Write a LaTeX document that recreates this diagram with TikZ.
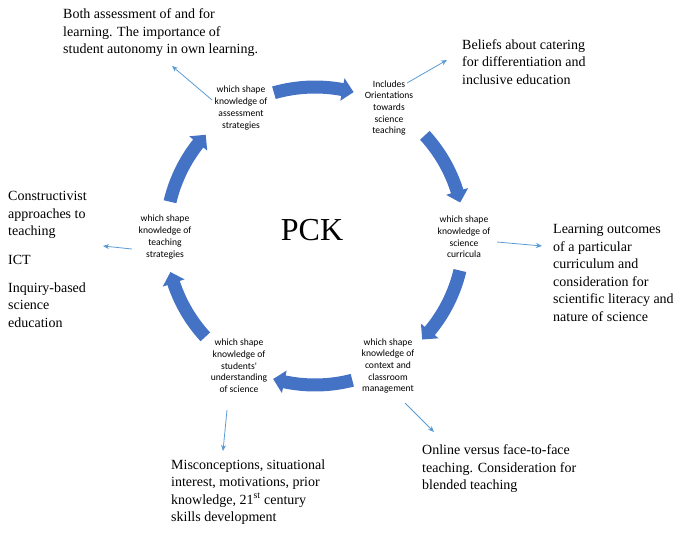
\documentclass[tikz,border=0pt]{standalone}
\usepackage{fontspec}
\setmainfont{Liberation Serif}
\newfontfamily\calfont{Carlito}
\usetikzlibrary{arrows.meta}
\definecolor{bigblue}{HTML}{4472C4}
\definecolor{thinblue}{HTML}{5B9BD5}
\newcommand\bigarrow[2]{%
  \fill[bigblue] (#1:155.5pt) arc[start angle=#1, end angle={#2+4.4}, radius=155.5pt]
   -- ({#2+4.4}:160.5pt) -- (#2:149pt) -- ({#2+4.4}:137.5pt) -- ({#2+4.4}:142.5pt)
   arc[start angle={#2+4.4}, end angle=#1, radius=142.5pt] -- cycle;}
\begin{document}
\begin{tikzpicture}[x=1pt,y=1pt,
  small/.style={font=\calfont\fontsize{9.6}{11.7}\selectfont, align=center, inner sep=0pt},
  note/.style={font=\fontsize{14}{17.5}\selectfont, align=left, anchor=west, inner sep=0pt},
  thin/.style={draw=thinblue, line width=0.8pt, -{Stealth[length=6pt,width=5pt]}}]
\useasboundingbox (0,0) rectangle (685,539);
% big curved arrows
\begin{scope}[shift={(315,303)}]
\bigarrow{106}{75}
\bigarrow{42.5}{13}
\bigarrow{-13.4}{-44}
\bigarrow{-75.5}{-106.3}
\bigarrow{-137.4}{-166}
\bigarrow{166.7}{137.2}
\end{scope}
% centre
\node (pck) at (312,309) {\fontsize{32}{38}\selectfont PCK};
% small nodes
\node[small] (A) at (241,431) {which shape\\knowledge of\\assessment\\strategies};
\node[small] (O) at (389,431) {Includes\\Orientations\\towards\\science\\teaching};
\node[small] (Cu) at (464,302) {which shape\\knowledge of\\science\\curricula};
\node[small] (Cx) at (388,173) {which shape\\knowledge of\\context and\\classroom\\management};
\node[small] (St) at (239,173) {which shape\\knowledge of\\students'\\understanding\\of science};
\node[small] (T) at (165,302) {which shape\\knowledge of\\teaching\\strategies};
% notes
\node[note] (tl) at (63,506) {Both assessment of and for\\learning. The importance of\\student autonomy in own learning.};
\node[note] (tr) at (462,477) {Beliefs about catering\\for differentiation and\\inclusive education};
\node[note] (r) at (553,266) {Learning outcomes\\of a particular\\curriculum and\\consideration for\\scientific literacy and\\nature of science};
\node[note] (con) at (8,324) {Constructivist\\approaches to\\teaching};
\node[note] (ict) at (8,279) {ICT};
\node[note] (inq) at (8,234) {Inquiry-based\\science\\education};
\node[note] (bot) at (171,47) {Misconceptions, situational\\interest, motivations, prior\\knowledge, 21\textsuperscript{st} century\\skills development};
\node[note] (br) at (422,70) {Online versus face-to-face\\teaching. Consideration for\\blended teaching};
% connector endpoints
\coordinate (a0) at (212,439); \coordinate (a1) at (172,473);
\coordinate (o0) at (407,456); \coordinate (o1) at (447,479);
\coordinate (c0) at (497,297); \coordinate (c1) at (542,293);
\coordinate (x0) at (405,136); \coordinate (x1) at (434,107);
\coordinate (s0) at (227,129); \coordinate (s1) at (223,88);
\coordinate (t0) at (132,290); \coordinate (t1) at (103,293);
\draw[thin] (a0) -- (a1);
\draw[thin] (o0) -- (o1);
\draw[thin] (c0) -- (c1);
\draw[thin] (x0) -- (x1);
\draw[thin] (s0) -- (s1);
\draw[thin] (t0) -- (t1);
\end{tikzpicture}
\end{document}
